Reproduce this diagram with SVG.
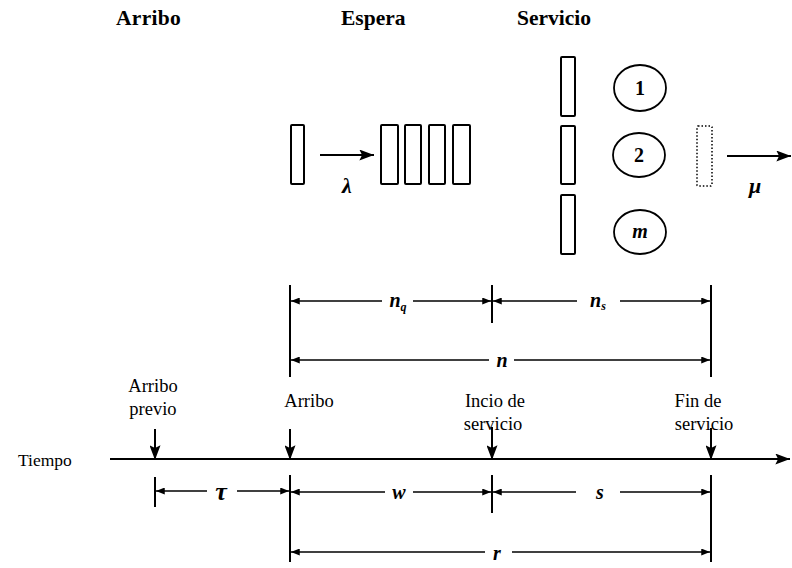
<svg xmlns="http://www.w3.org/2000/svg" width="792" height="568" viewBox="0 0 792 568">
  <style>
    .t { font-family: "Liberation Serif", "Times New Roman", serif; fill: #000; }
    .title { font-size: 21.5px; font-weight: bold; }
    .lbl { font-size: 18.5px; }
    .var { font-size: 20px; font-weight: bold; font-style: italic; }
    .num { font-size: 20px; font-weight: bold; }
    .box { fill: #fff; stroke: #000; stroke-width: 2; }
    .ghost { fill: none; stroke: #000; stroke-width: 1.5; stroke-dasharray: 1.5 2; }
    .srv { fill: #fff; stroke: #000; stroke-width: 1.8; }
    .dim { stroke: #000; stroke-width: 1.6; fill: none; }
    .tick { stroke: #000; stroke-width: 2; fill: none; }
    .flow { stroke: #000; stroke-width: 2; fill: none; }
  </style>
  <defs>
    <marker id="dimHead" viewBox="0 0 10 8" refX="10" refY="4" markerWidth="9" markerHeight="7" markerUnits="userSpaceOnUse" orient="auto">
      <path d="M0,0 L10,4 L0,8 Z" fill="#000"/>
    </marker>
    <marker id="bigHead" viewBox="0 0 16 12" refX="16" refY="6" markerWidth="16" markerHeight="11" markerUnits="userSpaceOnUse" orient="auto">
      <path d="M0,0 L16,6 L0,12 L3,6 Z" fill="#000"/>
    </marker>
  </defs>

  <!-- section headings -->
  <g id="headings" class="t title">
    <text x="116" y="25" letter-spacing="0.3">Arribo</text>
    <text x="341" y="25">Espera</text>
    <text x="517" y="25">Servicio</text>
  </g>

  <!-- arriving customer -->
  <g id="arrival">
    <rect class="box" x="291" y="125" width="13" height="59" rx="1"/>
  </g>

  <!-- queue of waiting customers -->
  <g id="queue">
    <rect class="box" x="381" y="125" width="17" height="59" rx="1"/>
    <rect class="box" x="405" y="125" width="16" height="59" rx="1"/>
    <rect class="box" x="429" y="125" width="16" height="59" rx="1"/>
    <rect class="box" x="453" y="125" width="17" height="59" rx="1"/>
  </g>

  <!-- customers in service -->
  <g id="in-service">
    <rect class="box" x="561" y="57" width="14" height="59" rx="1"/>
    <rect class="box" x="561" y="126" width="14" height="58" rx="1"/>
    <rect class="box" x="561" y="195" width="14" height="59" rx="1"/>
  </g>

  <!-- servers -->
  <g id="server-1">
    <ellipse class="srv" cx="640" cy="88" rx="26" ry="23"/>
    <text class="t num" x="640" y="95" text-anchor="middle">1</text>
  </g>
  <g id="server-2">
    <ellipse class="srv" cx="639" cy="155" rx="26" ry="22"/>
    <text class="t num" x="639" y="162" text-anchor="middle">2</text>
  </g>
  <g id="server-m">
    <ellipse class="srv" cx="640" cy="232" rx="26" ry="22"/>
    <text class="t var" x="640" y="238" text-anchor="middle">m</text>
  </g>

  <!-- departing customer -->
  <g id="departure">
    <rect class="ghost" x="697" y="126" width="15" height="60" rx="1"/>
  </g>

  <!-- rates -->
  <g id="rates" class="t var">
    <text x="347" y="193" font-size="22" text-anchor="middle">λ</text>
    <text x="755" y="193" font-size="22" text-anchor="middle">μ</text>
  </g>

  <!-- time axis labels -->
  <g id="time-labels" class="t lbl">
    <text x="18" y="466" font-size="17.5">Tiempo</text>
    <text x="153" y="392" text-anchor="middle">Arribo</text>
    <text x="153" y="415" text-anchor="middle">previo</text>
    <text x="309" y="407" text-anchor="middle">Arribo</text>
    <text x="495" y="407" text-anchor="middle">Incio de</text>
    <text x="493" y="430" text-anchor="middle">servicio</text>
    <text x="698" y="407" text-anchor="middle">Fin de</text>
    <text x="704" y="430" text-anchor="middle">servicio</text>
  </g>

  <!-- dimension labels -->
  <g id="dim-labels" class="t var" text-anchor="middle">
    <text x="398" y="307">n<tspan font-size="12" dy="4">q</tspan></text>
    <text x="598" y="307">n<tspan font-size="12" dy="3">s</tspan></text>
    <text x="502" y="367">n</text>
    <text x="221" y="500" font-size="26">τ</text>
    <text x="399" y="499">w</text>
    <text x="600" y="499">s</text>
    <text x="497" y="560">r</text>
  </g>

  <g id="connectors">
    <!-- flow arrows -->
    <line class="flow" x1="320" y1="155" x2="374" y2="155" marker-end="url(#bigHead)"/>
    <line class="flow" x1="727" y1="156" x2="791" y2="156" marker-end="url(#bigHead)"/>

    <!-- time axis -->
    <line class="flow" x1="110" y1="459" x2="790" y2="459" marker-end="url(#bigHead)"/>

    <!-- event markers on the axis -->
    <line class="flow" x1="155" y1="429" x2="155" y2="460" marker-end="url(#bigHead)"/>
    <line class="flow" x1="290" y1="429" x2="290" y2="460" marker-end="url(#bigHead)"/>
    <line class="flow" x1="492" y1="427" x2="492" y2="460" marker-end="url(#bigHead)"/>
    <line class="flow" x1="711" y1="428" x2="711" y2="460" marker-end="url(#bigHead)"/>

    <!-- extension lines -->
    <line class="tick" x1="290" y1="285" x2="290" y2="377"/>
    <line class="tick" x1="492" y1="285" x2="492" y2="323"/>
    <line class="tick" x1="711" y1="285" x2="711" y2="377"/>
    <line class="tick" x1="155" y1="477" x2="155" y2="507"/>
    <line class="tick" x1="290" y1="475" x2="290" y2="562"/>
    <line class="tick" x1="492" y1="475" x2="492" y2="513"/>
    <line class="tick" x1="711" y1="475" x2="711" y2="562"/>

    <!-- n_q / n_s -->
    <line class="dim" x1="382" y1="301" x2="291" y2="301" marker-end="url(#dimHead)"/>
    <line class="dim" x1="413" y1="301" x2="491" y2="301" marker-end="url(#dimHead)"/>
    <line class="dim" x1="577" y1="301" x2="493" y2="301" marker-end="url(#dimHead)"/>
    <line class="dim" x1="620" y1="301" x2="710" y2="301" marker-end="url(#dimHead)"/>
    <!-- n -->
    <line class="dim" x1="489" y1="360" x2="291" y2="360" marker-end="url(#dimHead)"/>
    <line class="dim" x1="514" y1="360" x2="710" y2="360" marker-end="url(#dimHead)"/>
    <!-- tau -->
    <line class="dim" x1="207" y1="491" x2="156" y2="491" marker-end="url(#dimHead)"/>
    <line class="dim" x1="237" y1="491" x2="289" y2="491" marker-end="url(#dimHead)"/>
    <!-- w / s -->
    <line class="dim" x1="385" y1="492" x2="291" y2="492" marker-end="url(#dimHead)"/>
    <line class="dim" x1="413" y1="492" x2="491" y2="492" marker-end="url(#dimHead)"/>
    <line class="dim" x1="576" y1="492" x2="493" y2="492" marker-end="url(#dimHead)"/>
    <line class="dim" x1="620" y1="492" x2="710" y2="492" marker-end="url(#dimHead)"/>
    <!-- r -->
    <line class="dim" x1="485" y1="552" x2="291" y2="552" marker-end="url(#dimHead)"/>
    <line class="dim" x1="512" y1="552" x2="710" y2="552" marker-end="url(#dimHead)"/>
  </g>
</svg>
